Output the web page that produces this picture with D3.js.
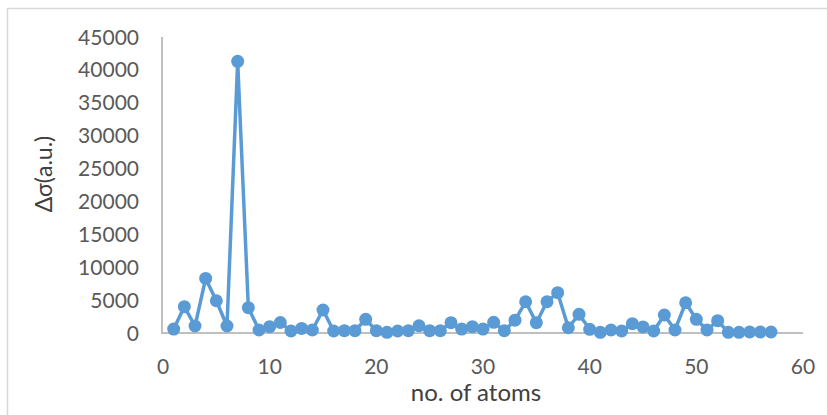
<!DOCTYPE html>
<html>
<head>
<meta charset="utf-8">
<script src="https://cdn.jsdelivr.net/npm/d3@7"></script>
<style>
  html, body { margin: 0; padding: 0; background: #fff; }
  svg { display: block; }
  text { font-family: Lato, "Open Sans", sans-serif; }
</style>
</head>
<body>
<svg id="chart" width="827" height="415"></svg>
<script>
const atoms = d3.range(1, 58);
const deltaSigma = [
  600, 4000, 1060, 8300, 4900, 1060, 41300, 3850, 460, 960,
  1600, 300, 700, 460, 3500, 300, 350, 350, 2080, 350,
  100, 300, 350, 1100, 350, 350, 1570, 600, 960, 600,
  1620, 350, 1950, 4750, 1570, 4750, 6130, 800, 2840, 560,
  100, 460, 300, 1420, 920, 300, 2740, 460, 4600, 2080,
  460, 1870, 100, 100, 150, 150, 150
];
const xTicks = [0, 10, 20, 30, 40, 50, 60];
const yTicks = [0, 5000, 10000, 15000, 20000, 25000, 30000, 35000, 40000, 45000];
const xTitle = "no. of atoms";
const yTitle = "Δσ(a.u.)";

const svg = d3.select("#chart");
const W = 827, H = 415;

// chart frame
svg.append("rect").attr("x", 7.5).attr("y", 8.5).attr("width", W + 10).attr("height", H + 10)
  .attr("fill", "#fff").attr("stroke", "#d9d9d9").attr("stroke-width", 1.5);

const x = d3.scaleLinear().domain([0, 60]).range([163, 803]);
const y = d3.scaleLinear().domain([0, 45000]).range([333, 37]);

// axis lines
svg.append("line").attr("x1", x(0) - 1).attr("x2", x(0) - 1).attr("y1", y(45000)).attr("y2", y(0))
  .attr("stroke", "#bfbfbf").attr("stroke-width", 2);
svg.append("line").attr("x1", x(0) - 2).attr("x2", x(60)).attr("y1", y(0)).attr("y2", y(0))
  .attr("stroke", "#bfbfbf").attr("stroke-width", 2);

// y tick labels
svg.append("g").selectAll("text").data(yTicks).join("text")
  .attr("x", 139).attr("y", d => y(d)).attr("dy", "0.36em")
  .attr("text-anchor", "end").attr("font-size", 21).attr("fill", "#595959")
  .text(d => d);

// x tick labels
svg.append("g").selectAll("text").data(xTicks).join("text")
  .attr("x", d => x(d)).attr("y", 366).attr("dy", "0.36em")
  .attr("text-anchor", "middle").attr("font-size", 21).attr("fill", "#595959")
  .text(d => d);

// titles
svg.append("text").attr("x", 476).attr("y", 392).attr("dy", "0.36em")
  .attr("text-anchor", "middle").attr("font-size", 24).attr("fill", "#404040").text(xTitle);
svg.append("text").attr("transform", "translate(44,174) rotate(-90)").attr("dy", "0.36em")
  .attr("text-anchor", "middle").attr("font-size", 23).attr("fill", "#404040").text(yTitle);

// line + markers
const data = atoms.map((a, i) => ({a, v: deltaSigma[i]}));
svg.append("path").datum(data)
  .attr("fill", "none").attr("stroke", "#5b9bd5").attr("stroke-width", 3.5)
  .attr("stroke-linejoin", "round")
  .attr("d", d3.line().x(d => x(d.a)).y(d => y(d.v)));
svg.append("g").selectAll("circle").data(data).join("circle")
  .attr("cx", d => x(d.a)).attr("cy", d => y(d.v)).attr("r", 6.5)
  .attr("fill", "#5b9bd5");
</script>
</body>
</html>
